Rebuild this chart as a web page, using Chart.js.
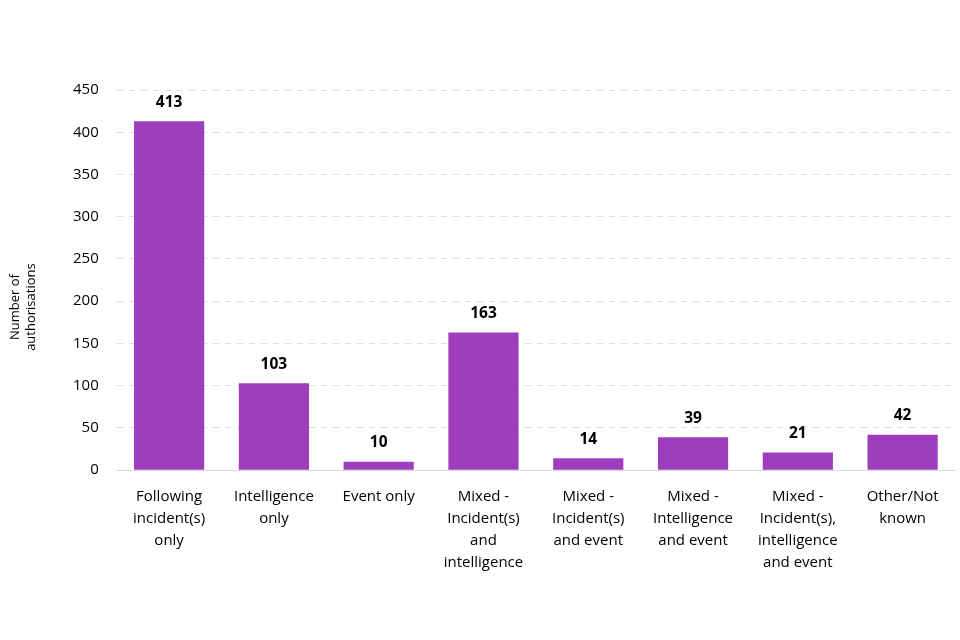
<!DOCTYPE html>
<html><head><meta charset="utf-8">
<script src="https://cdn.jsdelivr.net/npm/chart.js@4"></script>
<style>html,body{margin:0;padding:0;background:#fff}#wrap{width:960px;height:640px}</style>
</head><body><div id="wrap"><canvas id="c"></canvas></div>
<script>
const categories = [
  ["Following","incident(s)","only"],
  ["Intelligence","only"],
  ["Event only"],
  ["Mixed -","Incident(s)","and","intelligence"],
  ["Mixed -","Incident(s)","and event"],
  ["Mixed -","Intelligence","and event"],
  ["Mixed -","Incident(s),","intelligence","and event"],
  ["Other/Not","known"]
];
const authorisations = [413, 103, 10, 163, 14, 39, 21, 42];
const yTicks = [0, 50, 100, 150, 200, 250, 300, 350, 400, 450];
const yTitle = ["Number of", "authorisations"];

const FONT = "'Open Sans', 'Noto Sans', sans-serif";

const valueLabels = {
  id: 'valueLabels',
  afterDatasetsDraw(chart) {
    const ctx = chart.ctx;
    const meta = chart.getDatasetMeta(0);
    ctx.save();
    ctx.font = "bold 15.5px " + FONT;
    ctx.fillStyle = '#000';
    ctx.textAlign = 'center';
    ctx.textBaseline = 'bottom';
    meta.data.forEach((bar, i) => {
      ctx.fillText(String(chart.data.datasets[0].data[i]), bar.x, bar.y - 11);
    });
    ctx.restore();
  }
};

const yTitlePlugin = {
  id: 'yTitlePlugin',
  afterDraw(chart) {
    const ctx = chart.ctx;
    const area = chart.chartArea;
    ctx.save();
    ctx.translate(23, (area.top + area.bottom) / 2 + 27);
    ctx.rotate(-Math.PI / 2);
    ctx.font = "13px " + FONT;
    ctx.fillStyle = '#000';
    ctx.textAlign = 'center';
    ctx.textBaseline = 'middle';
    ctx.fillText(yTitle[0], 0, -8);
    ctx.fillText(yTitle[1], 0, 8);
    ctx.restore();
  }
};

new Chart(document.getElementById('c'), {
  type: 'bar',
  data: {
    labels: categories,
    datasets: [{
      data: authorisations,
      backgroundColor: '#9F3DBF',
      categoryPercentage: 0.67,
      barPercentage: 1.0
    }]
  },
  options: {
    responsive: true,
    maintainAspectRatio: false,
    animation: false,
    layout: { padding: { top: 90, right: 5, bottom: 51, left: 55 } },
    plugins: { legend: { display: false }, tooltip: { enabled: false } },
    scales: {
      x: {
        grid: { display: false, drawTicks: false },
        border: { display: true, color: '#d9d9d9', width: 1 },
        ticks: { color: '#000', font: { family: FONT, size: 15, lineHeight: 1.48 }, padding: 15, maxRotation: 0, autoSkip: false }
      },
      y: {
        min: 0, max: 450,
        afterBuildTicks(axis) { axis.ticks = yTicks.map(v => ({ value: v })); },
        grid: { color: '#dcdcdc', lineWidth: 1, drawTicks: false },
        border: { display: false, dash: [6, 6] },
        ticks: { color: '#000', font: { family: FONT, size: 15 }, padding: 18 }
      }
    }
  },
  plugins: [valueLabels, yTitlePlugin]
});
</script></body></html>
